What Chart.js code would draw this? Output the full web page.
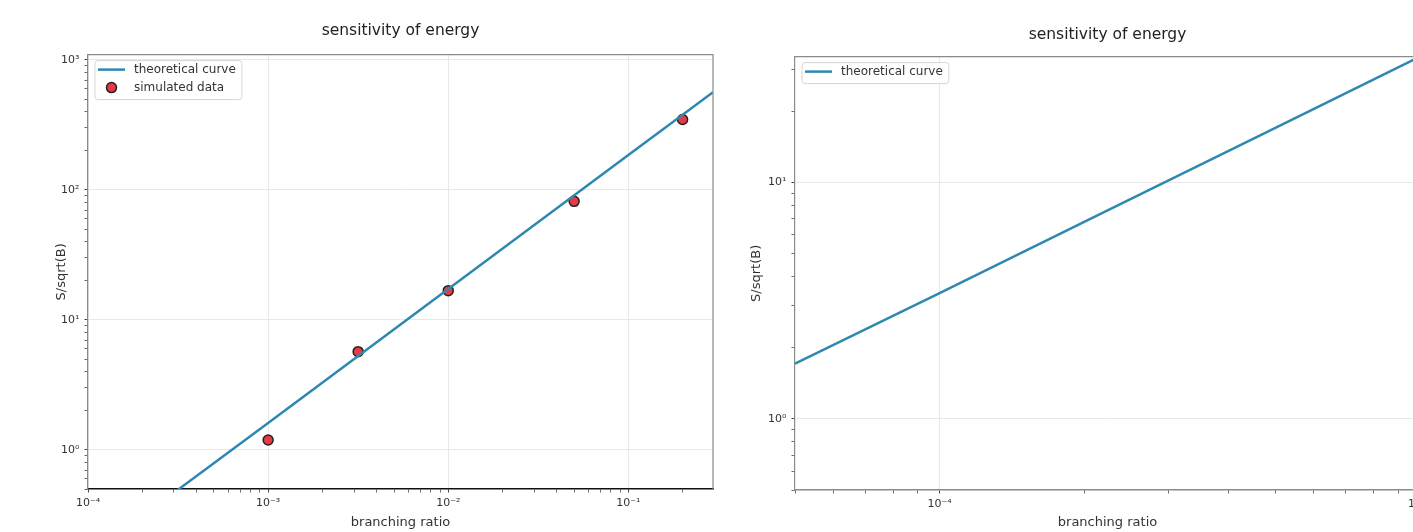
<!DOCTYPE html>
<html>
<head>
<meta charset="utf-8">
<script src="https://cdn.jsdelivr.net/npm/chart.js@4.4.1/dist/chart.umd.min.js"></script>
<style>
  html, body { margin: 0; padding: 0; background: #fff; overflow: hidden; width: 1413px; height: 532px; }
  canvas { position: absolute; top: 0; }
  #left { left: 0; }
  #right { left: 730px; }
</style>
</head>
<body>
<canvas id="left" width="740" height="532"></canvas>
<canvas id="right" width="720" height="532"></canvas>
<script>
// values

// left panel: theoretical curve + simulated points
const leftCurveX = [1e-4, 3.2e-4, 1e-3, 1e-2, 1e-1, 0.295];
const leftCurveY = [0.155, 0.5, 1.61, 17.3, 186, 565];
const simX = [1e-3, 3.16e-3, 1e-2, 0.05, 0.2];
const simY = [1.19, 5.7, 16.8, 81.7, 348];

// right panel: theoretical curve only
const rightCurveX = [5e-5, 1e-4, 2e-4, 5e-4, 1e-3];
const rightCurveY = [1.71, 3.4, 6.8, 17, 34];

// axis ranges
const leftXRange = [1e-4, 0.295];
const leftYRange = [0.5, 1100];
const rightXRange = [5e-5, 1e-3];
const rightYRange = [0.5, 34];

const titleText = 'sensitivity of energy';
const xTitle = 'branching ratio';
const yTitle = 'S/sqrt(B)';
const curveLabel = 'theoretical curve';
const simLabel = 'simulated data';

const lineColor = '#2f88b0';
const pointColor = '#e63946';

Chart.defaults.font.family = "'DejaVu Sans', sans-serif";
Chart.defaults.color = '#333';

const SUP = { '-': '\u207b', '0': '\u2070', '1': '\u00b9', '2': '\u00b2', '3': '\u00b3',
  '4': '\u2074', '5': '\u2075', '6': '\u2076', '7': '\u2077', '8': '\u2078', '9': '\u2079' };

function isDecade(v) {
  const l = Math.log10(v);
  return Math.abs(l - Math.round(l)) < 1e-9;
}

function decadeLabel(v) {
  const e = String(Math.round(Math.log10(v)));
  return '10' + e.split('').map((c) => SUP[c]).join('');
}

// major decades + minor 2..9 ticks, like matplotlib log axes
function logTicks(min, max) {
  const ticks = [];
  for (let e = Math.floor(Math.log10(min)); e <= Math.ceil(Math.log10(max)); e++) {
    for (let k = 1; k <= 9; k++) {
      const v = k * Math.pow(10, e);
      if (v >= min * 0.9999 && v <= max * 1.0001) ticks.push({ value: v });
    }
  }
  return ticks;
}

function toPoints(xs, ys) {
  return xs.map((x, i) => ({ x: x, y: ys[i] }));
}

// top + right spines
const framePlugin = {
  id: 'frame',
  afterDraw(chart) {
    const { ctx, chartArea: a } = chart;
    ctx.save();
    ctx.strokeStyle = '#8a8a8a';
    ctx.lineWidth = 1.2;
    ctx.beginPath();
    ctx.moveTo(a.left, a.top);
    ctx.lineTo(a.right, a.top);
    ctx.lineTo(a.right, a.bottom);
    ctx.stroke();
    ctx.restore();
  },
};

// matplotlib-like legend box in the upper left of the plot area
const boxLegend = {
  id: 'boxLegend',
  afterDraw(chart) {
    const { ctx, chartArea: a } = chart;
    const sets = chart.data.datasets;
    const x0 = a.left + 7, y0 = a.top + 6;
    const rowH = 18;
    ctx.save();
    ctx.font = "12px 'DejaVu Sans', sans-serif";
    let tw = 0;
    sets.forEach((ds) => { tw = Math.max(tw, ctx.measureText(ds.label).width); });
    const w = 39 + tw + 6, h = rowH * sets.length + 3;
    ctx.beginPath();
    ctx.roundRect(x0, y0, w, h, 3);
    ctx.fillStyle = 'rgba(255,255,255,0.85)';
    ctx.fill();
    ctx.strokeStyle = '#d6d6d6';
    ctx.lineWidth = 1;
    ctx.stroke();
    sets.forEach((ds, i) => {
      const cy = y0 + 9 + i * rowH;
      if (ds.showLine) {
        ctx.strokeStyle = ds.borderColor;
        ctx.lineWidth = ds.borderWidth;
        ctx.beginPath();
        ctx.moveTo(x0 + 3, cy);
        ctx.lineTo(x0 + 30, cy);
        ctx.stroke();
      } else {
        ctx.beginPath();
        ctx.arc(x0 + 16.5, cy, ds.pointRadius, 0, Math.PI * 2);
        ctx.fillStyle = ds.backgroundColor;
        ctx.fill();
        ctx.strokeStyle = ds.borderColor;
        ctx.lineWidth = ds.borderWidth;
        ctx.stroke();
      }
      ctx.fillStyle = '#333';
      ctx.textBaseline = 'middle';
      ctx.fillText(ds.label, x0 + 39, cy + 0.5);
    });
    ctx.restore();
  },
};

function logAxis(range, o) {
  return {
    type: 'logarithmic',
    min: range[0],
    max: range[1],
    bounds: 'data',
    afterBuildTicks: (s) => { s.ticks = logTicks(range[0], range[1]); },
    afterFit: o.fit,
    title: {
      display: true,
      text: o.title,
      font: { size: 13 },
      color: '#333',
      padding: o.titlePad,
    },
    ticks: {
      autoSkip: false,
      maxRotation: 0,
      padding: o.tickPad,
      font: { size: 11 },
      color: '#333',
      callback: (v) => (isDecade(v) ? decadeLabel(v) : ''),
    },
    grid: {
      color: (c) => (c.tick && isDecade(c.tick.value) ? '#e8e8e8' : 'rgba(0,0,0,0)'),
      tickColor: '#444',
      tickLength: 3.5,
      tickWidth: (c) => (c.tick && isDecade(c.tick.value) ? 1 : 0.8),
    },
    border: { color: o.borderColor, width: o.borderWidth },
  };
}

function makeChart(id, datasets, xr, yr, lay) {
  return new Chart(document.getElementById(id), {
    type: 'scatter',
    data: { datasets: datasets },
    options: {
      responsive: false,
      devicePixelRatio: 1,
      animation: false,
      layout: { padding: lay.padding },
      plugins: {
        legend: { display: false },
        tooltip: { enabled: false },
        title: {
          display: true,
          fullSize: false,
          text: titleText,
          font: { size: 15.5, weight: 'normal' },
          color: '#222',
          padding: lay.titlePad,
        },
      },
      scales: {
        x: logAxis(xr, {
          title: xTitle,
          titlePad: { top: 0, bottom: 2 },
          tickPad: 4,
          fit: (s) => { s.height = lay.xHeight; },
          borderColor: lay.xBorder,
          borderWidth: lay.xBorderWidth,
        }),
        y: logAxis(yr, {
          title: yTitle,
          titlePad: { top: 4, bottom: 0 },
          tickPad: 5,
          fit: (s) => { s.width = lay.yWidth; },
          borderColor: '#8a8a8a',
          borderWidth: 1.2,
        }),
      },
    },
    plugins: [framePlugin, boxLegend],
  });
}

const curveStyle = {
  showLine: true,
  borderColor: lineColor,
  borderWidth: 2.5,
  pointRadius: 0,
  pointHoverRadius: 0,
  tension: 0,
};

// left panel
makeChart('left', [
  Object.assign({ label: curveLabel, data: toPoints(leftCurveX, leftCurveY) }, curveStyle),
  {
    label: simLabel,
    data: toPoints(simX, simY),
    showLine: false,
    pointRadius: 5,
    backgroundColor: pointColor,
    borderColor: '#222',
    borderWidth: 1.5,
  },
], leftXRange, leftYRange, {
  padding: { left: 50, right: 27, top: 0, bottom: 0 },
  titlePad: { top: 22, bottom: 14 },
  xHeight: 43,
  yWidth: 38,
  xBorder: '#111',
  xBorderWidth: 1.6,
});

// right panel
makeChart('right', [
  Object.assign({ label: curveLabel, data: toPoints(rightCurveX, rightCurveY) }, curveStyle),
], rightXRange, rightYRange, {
  padding: { left: 15, right: 30, top: 0, bottom: 0 },
  titlePad: { top: 26, bottom: 12 },
  xHeight: 42,
  yWidth: 50,
  xBorder: '#8a8a8a',
  xBorderWidth: 1.4,
});
</script>
</body>
</html>
